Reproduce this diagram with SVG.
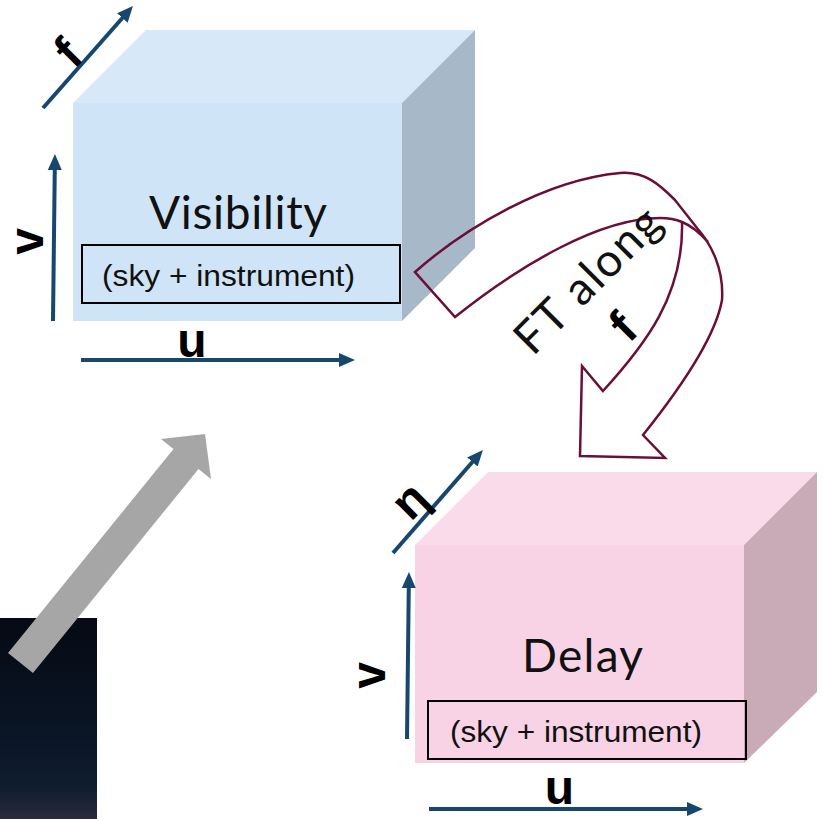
<svg xmlns="http://www.w3.org/2000/svg" width="823" height="819" viewBox="0 0 823 819">
  <defs>
    <marker id="ah" viewBox="0 0 16 16" markerUnits="userSpaceOnUse" markerWidth="16" markerHeight="16" refX="2" refY="8" orient="auto">
      <path d="M0,1 L16,8 L0,15 Z" fill="#17476f"/>
    </marker>
    <linearGradient id="dark" x1="0" y1="0" x2="0" y2="1">
      <stop offset="0" stop-color="#050a14"/>
      <stop offset="0.6" stop-color="#0a1626"/>
      <stop offset="0.85" stop-color="#101d30"/>
      <stop offset="1" stop-color="#2a2c3b"/>
    </linearGradient>
    <style>
      .axis { stroke: #17476f; stroke-width: 4; fill: none; marker-end: url(#ah); }
      .lbl { font-family: "Liberation Sans", Arial, sans-serif; font-weight: bold; font-size: 48px; fill: #000; }
      .title { font-family: Lato, "Open Sans", sans-serif; font-weight: 400; font-size: 46px; fill: #111; }
      .sub { font-family: "Liberation Sans", Arial, sans-serif; font-size: 30px; fill: #111; }
      .box { fill: none; stroke: #000; stroke-width: 2; }
      .ft { fill: none; stroke: #6a0f38; stroke-width: 2.5; stroke-linejoin: miter; }
    </style>
  </defs>

  <rect width="823" height="819" fill="#ffffff"/>

  <g id="dark-panel">
    <rect x="0" y="618" width="97" height="201" fill="url(#dark)"/>
  </g>

  <g id="visibility-cube">
    <polygon points="73,103 146,30 475,30 402,103" fill="#d7e9f8"/>
    <polygon points="402,103 475,30 475,248 402,321" fill="#a7b9c9"/>
    <rect x="73" y="103" width="329" height="218" fill="#cfe4f7"/>
    <text class="title" x="149" y="229" textLength="178" lengthAdjust="spacing">Visibility</text>
    <rect class="box" x="82" y="245" width="318" height="58"/>
    <text class="sub" x="102" y="286" textLength="253" lengthAdjust="spacingAndGlyphs">(sky + instrument)</text>
    <line class="axis" x1="53" y1="321" x2="54.8" y2="168"/>
    <line class="axis" x1="81" y1="360" x2="341" y2="360"/>
    <line class="axis" x1="43" y1="108" x2="123.7" y2="16.5"/>
    <text class="lbl" transform="translate(43,241.5) rotate(-90)" text-anchor="middle">v</text>
    <text class="lbl" x="192" y="357" text-anchor="middle">u</text>
    <text class="lbl" transform="translate(74,70) rotate(-45)">f</text>
  </g>

  <g id="delay-cube">
    <polygon points="415,545 488,472 817,472 744,545" fill="#f9dbea"/>
    <polygon points="744,545 817,472 817,692 744,763" fill="#c9aab7"/>
    <rect x="415" y="545" width="329" height="218" fill="#f8d3e6"/>
    <text class="title" x="522" y="672" textLength="121" lengthAdjust="spacing">Delay</text>
    <rect class="box" x="428" y="701" width="318" height="58"/>
    <text class="sub" x="450" y="742" textLength="252" lengthAdjust="spacingAndGlyphs">(sky + instrument)</text>
    <line class="axis" x1="407" y1="739" x2="408.8" y2="586"/>
    <line class="axis" x1="429" y1="809" x2="689" y2="809"/>
    <line class="axis" x1="393" y1="553" x2="473.7" y2="460.5"/>
    <text class="lbl" transform="translate(385,675.5) rotate(-90)" text-anchor="middle">v</text>
    <text class="lbl" x="559.5" y="804" text-anchor="middle">u</text>
    <text class="lbl" transform="translate(421,512) rotate(-45)" text-anchor="middle">η</text>
  </g>

  <g id="connectors">
    <g id="ft-arrow">
      <path class="ft" d="M415,272 C465,228 545,180 620,173 C645,171 660,185 675,200 L697,228 C712,245 724,270 722,300 C715,340 675,395 643,435 L665,458 L580,456 L582,366 L603,391 C645,345 684,295 682,222 C675,219 668,218 660,218 C600,218 520,265 455,317 Z"/>
      <path class="ft" d="M682,222 C692,226 700,233 708,242"/>
      <text class="title" transform="translate(533,357) rotate(-45)" font-size="44" textLength="186" lengthAdjust="spacing">FT along</text>
      <text class="lbl" transform="translate(629,344) rotate(-45)" font-size="45">f</text>
    </g>
    <g id="gray-arrow">
      <polygon points="8,653 173.5,449 161,439 205,434 211,479 198.5,469 33,673" fill="#a6a6a6"/>
    </g>
  </g>
</svg>
